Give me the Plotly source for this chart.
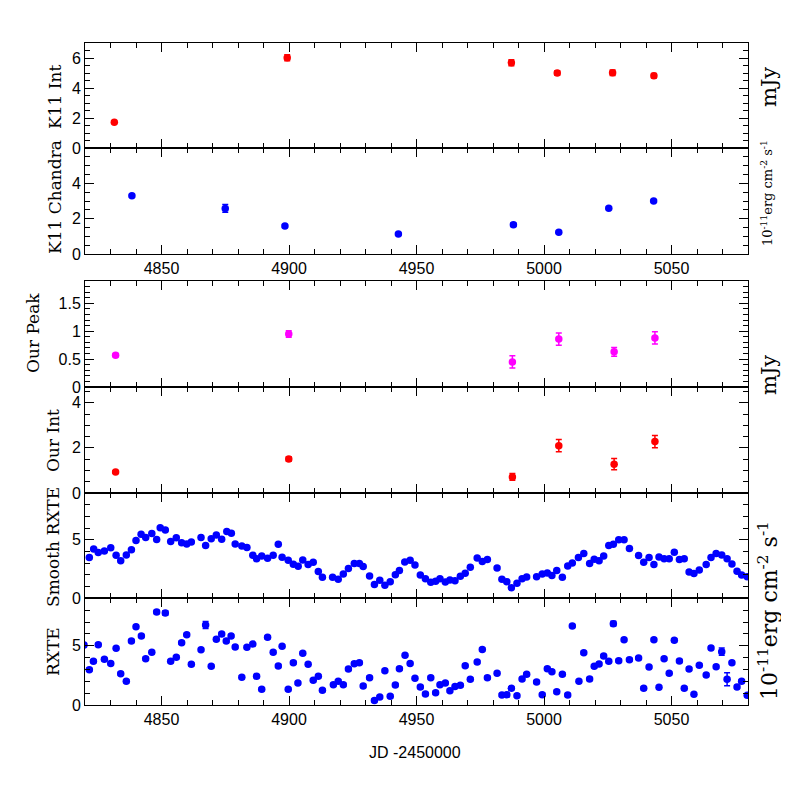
import plotly.graph_objects as go

# ── data ──────────────────────────────────────────────────────────────────────
k11_int_jd = [4831.5, 4899.3, 4987.2, 5005.2, 5026.9, 5043.1]
k11_int = [1.72, 6.02, 5.69, 5.00, 5.02, 4.82]
k11_int_err = [0.05, 0.20, 0.20, 0.15, 0.18, 0.15]

k11_chandra_jd = [4838.4, 4875.0, 4898.4, 4942.9, 4988.0, 5005.8, 5025.4, 5043.0]
k11_chandra = [3.30, 2.58, 1.58, 1.13, 1.66, 1.23, 2.59, 3.00]
k11_chandra_err = [0.06, 0.22, 0.08, 0.05, 0.10, 0.05, 0.06, 0.06]

our_jd = [4832.0, 4899.9, 4987.6, 5005.8, 5027.5, 5043.5]
our_peak = [0.57, 0.95, 0.45, 0.86, 0.63, 0.88]
our_peak_err = [0.03, 0.06, 0.11, 0.11, 0.08, 0.11]
our_int = [0.93, 1.51, 0.71, 2.10, 1.28, 2.28]
our_int_err = [0.05, 0.10, 0.15, 0.27, 0.25, 0.27]

smooth_jd = [
    4821.7, 4823.4, 4825.2, 4827.6, 4830.1, 4832.2, 4834.0, 4836.2, 4838.2, 4840.0,
    4842.0, 4843.8, 4846.2, 4848.1, 4849.5, 4851.5, 4853.6, 4855.8, 4857.9, 4859.9,
    4861.7, 4865.5, 4867.3, 4869.5, 4871.5, 4873.6, 4875.6, 4877.4, 4878.9, 4881.5,
    4883.5, 4885.8, 4887.3, 4889.3, 4891.6, 4893.8, 4895.8, 4897.3, 4899.7, 4901.7,
    4903.6, 4905.4, 4907.5, 4909.5, 4911.5, 4913.1, 4917.1, 4919.3, 4921.3, 4923.3,
    4925.6, 4927.6, 4929.1, 4931.6, 4933.5, 4935.6, 4937.6, 4939.7, 4941.7, 4943.3,
    4945.4, 4947.5, 4949.4, 4951.5, 4953.5, 4955.6, 4957.5, 4959.2, 4961.3, 4963.1,
    4965.1, 4967.2, 4969.1, 4971.1, 4973.8, 4975.8, 4977.8, 4981.6, 4983.5, 4985.4,
    4987.2, 4989.4, 4991.4, 4993.2, 4997.1, 4999.3, 5001.3, 5003.1, 5005.0, 5007.2,
    5009.3, 5011.1, 5013.5, 5015.6, 5017.9, 5019.7, 5021.6, 5023.4, 5025.4, 5027.2,
    5029.3, 5031.4, 5033.5, 5037.1, 5039.1, 5041.2, 5043.1, 5045.1, 5047.1, 5049.1,
    5051.1, 5053.1, 5055.0, 5056.9, 5058.8, 5060.9, 5063.6, 5065.5, 5067.5, 5069.7,
    5071.8, 5073.7, 5075.7, 5077.5, 5079.7,
]
smooth_rxte = [
    3.48, 4.22, 3.91, 4.05, 4.31, 3.68, 3.22, 3.71, 4.14, 4.94,
    5.48, 5.19, 5.54, 5.02, 6.02, 5.83, 4.85, 5.17, 4.74, 4.65,
    4.82, 5.19, 4.51, 5.08, 5.42, 5.05, 5.71, 5.57, 4.65, 4.48,
    4.34, 3.68, 3.39, 3.62, 3.43, 3.68, 4.63, 3.51, 3.26, 2.91,
    2.74, 3.28, 2.88, 3.08, 2.28, 1.80, 1.80, 1.63, 2.08, 2.54,
    2.97, 2.97, 2.71, 1.91, 1.17, 1.54, 1.11, 1.42, 2.02, 2.37,
    3.11, 3.25, 2.85, 2.00, 1.68, 1.37, 1.46, 1.68, 1.40, 1.57,
    1.51, 1.88, 2.14, 2.66, 3.45, 3.14, 3.31, 2.60, 1.63, 1.42,
    0.91, 1.29, 1.68, 1.83, 1.85, 2.08, 2.17, 1.94, 2.37, 1.80,
    2.77, 3.02, 3.48, 3.82, 2.97, 3.34, 3.22, 3.62, 4.51, 4.63,
    5.00, 5.00, 4.25, 3.65, 3.08, 3.48, 2.88, 3.54, 3.39, 3.37,
    3.94, 3.31, 3.39, 2.25, 2.11, 2.42, 2.88, 3.48, 3.82, 3.71,
    3.37, 2.94, 2.31, 2.00, 1.85,
]

rxte_jd = [
    4819.6, 4821.7, 4823.3, 4825.2, 4827.6, 4830.1, 4832.2, 4834.0, 4836.2, 4838.2,
    4840.0, 4842.1, 4843.8, 4846.2, 4848.1, 4851.5, 4853.6, 4855.8, 4857.9, 4859.9,
    4861.7, 4865.5, 4867.3, 4869.5, 4871.5, 4873.6, 4875.4, 4877.3, 4878.9, 4881.5,
    4883.5, 4885.8, 4887.3, 4889.3, 4891.6, 4893.8, 4895.8, 4897.3, 4899.7, 4901.7,
    4903.5, 4905.4, 4907.5, 4909.5, 4911.5, 4913.1, 4917.4, 4919.3, 4921.3, 4923.3,
    4925.6, 4927.6, 4929.1, 4931.6, 4933.5, 4935.6, 4937.6, 4939.7, 4941.7, 4943.3,
    4945.5, 4947.5, 4949.4, 4951.5, 4953.5, 4955.6, 4957.5, 4959.2, 4961.3, 4963.1,
    4965.1, 4967.2, 4969.1, 4971.1, 4973.8, 4975.8, 4977.8, 4981.6, 4983.5, 4985.4,
    4987.2, 4989.4, 4991.4, 4993.2, 4997.1, 4999.3, 5001.3, 5003.1, 5005.0, 5007.2,
    5009.3, 5011.1, 5013.7, 5015.6, 5017.9, 5019.7, 5021.6, 5023.4, 5025.4, 5027.2,
    5029.3, 5031.4, 5033.5, 5037.1, 5039.1, 5041.2, 5043.1, 5045.1, 5047.1, 5049.1,
    5051.1, 5053.1, 5055.0, 5056.9, 5058.8, 5060.9, 5063.6, 5065.5, 5067.5, 5069.7,
    5071.8, 5073.7, 5075.7, 5077.5, 5079.7,
]
rxte = [
    5.06, 2.98, 3.68, 5.09, 3.85, 3.51, 4.78, 2.64, 2.00, 5.40,
    6.60, 5.82, 3.91, 4.44, 7.84, 7.76, 3.68, 4.02, 5.25, 5.93,
    3.43, 4.66, 6.75, 3.26, 5.54, 5.99, 5.40, 5.82, 4.89, 2.34,
    4.87, 5.14, 2.42, 1.32, 5.71, 4.44, 3.29, 4.95, 1.32, 3.57,
    1.85, 4.36, 3.43, 2.08, 2.42, 1.24, 1.71, 2.00, 1.71, 3.04,
    3.48, 3.57, 1.60, 2.30, 0.39, 0.67, 2.89, 0.73, 1.69, 3.06,
    4.19, 3.51, 2.25, 1.52, 0.93, 2.30, 1.04, 1.71, 1.85, 1.21,
    1.55, 1.66, 3.32, 2.17, 3.63, 4.69, 2.30, 2.67, 0.84, 0.87,
    1.41, 0.78, 2.19, 2.59, 1.94, 0.87, 3.06, 2.81, 1.12, 2.59,
    0.84, 6.66, 2.00, 4.41, 2.19, 3.26, 3.46, 4.13, 3.68, 6.86,
    3.74, 5.51, 3.82, 3.96, 1.41, 3.20, 5.51, 1.49, 3.90, 2.67,
    5.46, 3.71, 1.41, 3.04, 0.90, 3.35, 2.53, 4.81, 3.23, 4.50,
    2.17, 3.57, 1.52, 2.00, 0.82,
]
rxte_err = [
    0.12, 0.12, 0.12, 0.12, 0.12, 0.12, 0.12, 0.12, 0.12, 0.12,
    0.12, 0.12, 0.12, 0.12, 0.15, 0.20, 0.12, 0.12, 0.12, 0.12,
    0.12, 0.12, 0.30, 0.12, 0.12, 0.12, 0.12, 0.12, 0.12, 0.12,
    0.12, 0.12, 0.12, 0.12, 0.12, 0.12, 0.12, 0.12, 0.12, 0.12,
    0.12, 0.12, 0.12, 0.12, 0.12, 0.12, 0.12, 0.12, 0.12, 0.12,
    0.12, 0.12, 0.12, 0.12, 0.12, 0.12, 0.12, 0.12, 0.12, 0.12,
    0.12, 0.12, 0.12, 0.12, 0.12, 0.12, 0.12, 0.12, 0.12, 0.12,
    0.12, 0.12, 0.12, 0.12, 0.12, 0.12, 0.12, 0.12, 0.12, 0.12,
    0.12, 0.12, 0.12, 0.12, 0.12, 0.12, 0.12, 0.12, 0.12, 0.12,
    0.12, 0.12, 0.12, 0.12, 0.12, 0.12, 0.12, 0.12, 0.12, 0.20,
    0.12, 0.12, 0.12, 0.12, 0.12, 0.12, 0.12, 0.12, 0.12, 0.12,
    0.12, 0.12, 0.12, 0.12, 0.12, 0.12, 0.12, 0.12, 0.12, 0.30,
    0.55, 0.12, 0.12, 0.12, 0.12,
]

x_ticks = [4850, 4900, 4950, 5000, 5050]

# ── style ─────────────────────────────────────────────────────────────────────
BLUE, RED, MAGENTA = "#0000ff", "#ff0000", "#ff00ff"
TICK_FONT = dict(family="Liberation Sans, Arial, sans-serif", size=16, color="black")
LABEL_FONT = "DejaVu Serif, Liberation Serif, serif"

# page body has an 8px margin, so the figure is drawn 8px in from the corner
OFF = 8
W = H = 781
M_L, M_R, M_T, M_B = 77, 41, 35, 84
PLOT_W = W - M_L - M_R
PLOT_H = H - M_T - M_B


def py(pix):
    """Page pixel row -> paper y."""
    return (H - M_B - (pix - OFF)) / PLOT_H


def px(pix):
    """Page pixel column -> paper x."""
    return (pix - OFF - M_L) / PLOT_W


# panel: (top px, bottom px, y range, major ticks, minor step, x labels?)
panels = [
    (43, 148, [0, 7], [0, 2, 4, 6], 0.5, False),
    (148, 254, [0, 6], [0, 2, 4], 0.5, True),
    (281, 387, [0, 1.9], [0, 0.5, 1, 1.5], 0.1, False),
    (387, 493, [0, 4.7], [0, 2, 4], 0.5, False),
    (493, 598.3, [0, 9], [0, 5], 1, False),
    (598.3, 705, [0, 9], [0, 5], 1, True),
]

series = [
    (k11_int_jd, k11_int, k11_int_err, RED),
    (k11_chandra_jd, k11_chandra, k11_chandra_err, BLUE),
    (our_jd, our_peak, our_peak_err, MAGENTA),
    (our_jd, our_int, our_int_err, RED),
    (smooth_jd, smooth_rxte, None, BLUE),
    (rxte_jd, rxte, rxte_err, BLUE),
]

fig = go.Figure()
layout = {}

for i, ((top, bot, yr, yt, ymin, xlab), (xs, ys, es, col)) in enumerate(zip(panels, series), start=1):
    sfx = "" if i == 1 else str(i)
    err = None
    if es is not None:
        err = dict(type="data", array=es, visible=True, color=col, thickness=1.5, width=3)
    fig.add_trace(go.Scatter(
        x=xs, y=ys, mode="markers", error_y=err,
        marker=dict(color=col, size=7.5, symbol="circle", line=dict(width=0)),
        xaxis="x" + sfx, yaxis="y" + sfx, showlegend=False, cliponaxis=True,
    ))
    layout["xaxis" + sfx] = dict(
        domain=[0, 1], anchor="y" + sfx, range=[4820, 5080],
        matches=None if i == 1 else "x",
        tickmode="array", tickvals=x_ticks, showticklabels=xlab,
        ticks="inside", ticklen=9, tickwidth=1.2, tickcolor="black",
        minor=dict(ticks="inside", ticklen=5, tickwidth=1, tickcolor="black",
                   tickmode="linear", tick0=4820, dtick=10),
        showline=True, linecolor="black", linewidth=1, mirror="allticks",
        showgrid=False, zeroline=False, tickfont=TICK_FONT,
    )
    layout["yaxis" + sfx] = dict(
        domain=[py(bot), py(top)], anchor="x" + sfx, range=yr,
        tickmode="array", tickvals=yt,
        ticks="inside", ticklen=9, tickwidth=1.2, tickcolor="black",
        minor=dict(ticks="inside", ticklen=5, tickwidth=1, tickcolor="black",
                   tickmode="linear", tick0=0, dtick=ymin),
        showline=True, linecolor="black", linewidth=1, mirror="allticks",
        showgrid=False, zeroline=False, tickfont=TICK_FONT,
    )

fig.update_layout(**layout)

# ── axis titles as annotations ────────────────────────────────────────────────
left_titles = [
    ("K11 Int", 55, 97),
    ("K11 Chandra", 55, 197),
    ("Our Peak", 33, 333),
    ("Our Int", 53, 441),
    ("Smooth RXTE", 53, 547),
    ("RXTE", 53, 652),
]
for txt, xp, yp in left_titles:
    fig.add_annotation(
        text=txt, x=px(xp), y=py(yp), xref="paper", yref="paper",
        textangle=-90, showarrow=False, xanchor="center", yanchor="middle",
        font=dict(family=LABEL_FONT, size=17, color="black"),
    )

flux_unit = "10<sup>-11</sup>erg cm<sup>-2</sup> s<sup>-1</sup>"
right_titles = [
    ("mJy", 769, 87, 21),
    (flux_unit, 767, 193, 13),
    ("mJy", 769, 375, 21),
    (flux_unit, 768, 610, 22),
]
for txt, xp, yp, fs in right_titles:
    fig.add_annotation(
        text=txt, x=px(xp), y=py(yp), xref="paper", yref="paper",
        textangle=-90, showarrow=False, xanchor="center", yanchor="middle",
        font=dict(family=LABEL_FONT, size=fs, color="black"),
    )

fig.add_annotation(
    text="JD -2450000", x=px(415), y=py(752), xref="paper", yref="paper",
    showarrow=False, xanchor="center", yanchor="middle",
    font=dict(family="Liberation Sans, Arial, sans-serif", size=16, color="black"),
)

fig.update_layout(
    width=W, height=H,
    margin=dict(l=M_L, r=M_R, t=M_T, b=M_B),
    paper_bgcolor="white", plot_bgcolor="white",
    showlegend=False,
)

fig.write_html("out.html")
